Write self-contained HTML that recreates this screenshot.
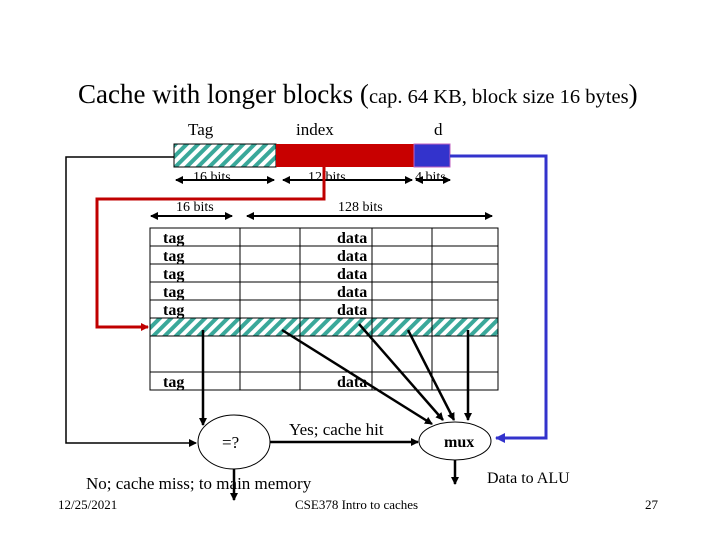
<!DOCTYPE html><html><head><style>body{margin:0;background:#fff}svg text{font-family:"Liberation Serif",serif}</style></head><body>
<svg width="720" height="540" viewBox="0 0 720 540" xmlns="http://www.w3.org/2000/svg">
<defs>
<pattern id="h" width="8" height="8" patternUnits="userSpaceOnUse" patternTransform="rotate(45)"><rect width="8" height="8" fill="#fff"/><rect width="4" height="8" fill="#3aa89a"/></pattern>
<marker id="a" markerWidth="8" markerHeight="8" refX="7" refY="4" orient="auto" markerUnits="userSpaceOnUse"><path d="M0,0L8,4L0,8z" fill="#000"/></marker>
<marker id="as" markerWidth="8" markerHeight="8" refX="1" refY="4" orient="auto" markerUnits="userSpaceOnUse"><path d="M8,0L0,4L8,8z" fill="#000"/></marker>
<marker id="ar" markerWidth="8" markerHeight="8" refX="7" refY="4" orient="auto" markerUnits="userSpaceOnUse"><path d="M0,0L8,4L0,8z" fill="#c00000"/></marker>
<marker id="ab" markerWidth="10" markerHeight="10" refX="9" refY="5" orient="auto" markerUnits="userSpaceOnUse"><path d="M0,0L10,5L0,10z" fill="#3333cc"/></marker>
</defs>
<text x="78" y="103" font-size="27">Cache with longer blocks (<tspan font-size="20.5">cap. 64 KB, block size 16 bytes</tspan>)</text>
<text x="188" y="135" font-size="17">Tag</text><text x="296" y="135" font-size="17">index</text><text x="434" y="135" font-size="17">d</text>
<rect x="174" y="144" width="102" height="23" fill="url(#h)" stroke="#000"/>
<rect x="276" y="144" width="138" height="23" fill="#c80000"/>
<rect x="414" y="144" width="36" height="23" fill="#3333cc" stroke="#c060c0"/>
<g font-size="14"><text x="193" y="181">16 bits</text><text x="308" y="181">12 bits</text><text x="415" y="181">4 bits</text>
<text x="176" y="211">16 bits</text><text x="338" y="211">128 bits</text></g>
<g stroke="#000" stroke-width="2" marker-start="url(#as)" marker-end="url(#a)">
<line x1="176" y1="180" x2="274" y2="180"/><line x1="283" y1="180" x2="412" y2="180"/><line x1="416" y1="180" x2="450" y2="180"/>
<line x1="151" y1="216" x2="232" y2="216"/><line x1="247" y1="216" x2="492" y2="216"/></g>
<rect x="150" y="318" width="348" height="18" fill="url(#h)"/>
<g stroke="#000" fill="none" stroke-width="1">
<rect x="150" y="228" width="348" height="162"/>
<path d="M150 246H498M150 264H498M150 282H498M150 300H498M150 318H498M150 336H498M150 372H498M240 228V390M300 228V390M372 228V390M432 228V390"/></g>
<g font-size="16" font-weight="bold" font-family="Liberation Serif">
<text x="163" y="243">tag</text><text x="163" y="261">tag</text><text x="163" y="279">tag</text><text x="163" y="297">tag</text><text x="163" y="315">tag</text><text x="163" y="387">tag</text>
<text x="337" y="243">data</text><text x="337" y="261">data</text><text x="337" y="279">data</text><text x="337" y="297">data</text><text x="337" y="315">data</text><text x="337" y="387">data</text></g>
<polyline points="324,167 324,199 97,199 97,327 148,327" fill="none" stroke="#c00000" stroke-width="3" marker-end="url(#ar)"/>
<polyline points="450,156 546,156 546,438 496,438" fill="none" stroke="#3333cc" stroke-width="3" marker-end="url(#ab)"/>
<polyline points="174,157 66,157 66,443 196,443" fill="none" stroke="#000" stroke-width="1.5" marker-end="url(#a)"/>
<g stroke="#000" stroke-width="2.5" fill="none" marker-end="url(#a)">
<line x1="203" y1="330" x2="203" y2="425"/>
<line x1="282" y1="330" x2="432" y2="424"/>
<line x1="359" y1="324" x2="443" y2="420"/>
<line x1="408" y1="330" x2="454" y2="420"/>
<line x1="468" y1="330" x2="468" y2="420"/>
<line x1="270" y1="442" x2="418" y2="442"/>
<line x1="234" y1="468" x2="234" y2="500"/>
<line x1="455" y1="458" x2="455" y2="484"/></g>
<ellipse cx="234" cy="442" rx="36" ry="27" fill="#fff" stroke="#000"/>
<ellipse cx="455" cy="441" rx="36" ry="19" fill="#fff" stroke="#000"/>
<text x="222" y="448" font-size="17">=?</text>
<text x="444" y="447" font-size="16" font-weight="bold">mux</text>
<text x="289" y="435" font-size="17">Yes; cache hit</text>
<text x="86" y="489" font-size="17">No; cache miss; to main memory</text>
<text x="487" y="483" font-size="16">Data to ALU</text>
<text x="58" y="509" font-size="13" font-family="Liberation Sans">12/25/2021</text>
<text x="295" y="509" font-size="13" font-family="Liberation Sans">CSE378 Intro to caches</text>
<text x="645" y="509" font-size="13" font-family="Liberation Sans">27</text>
</svg></body></html>
